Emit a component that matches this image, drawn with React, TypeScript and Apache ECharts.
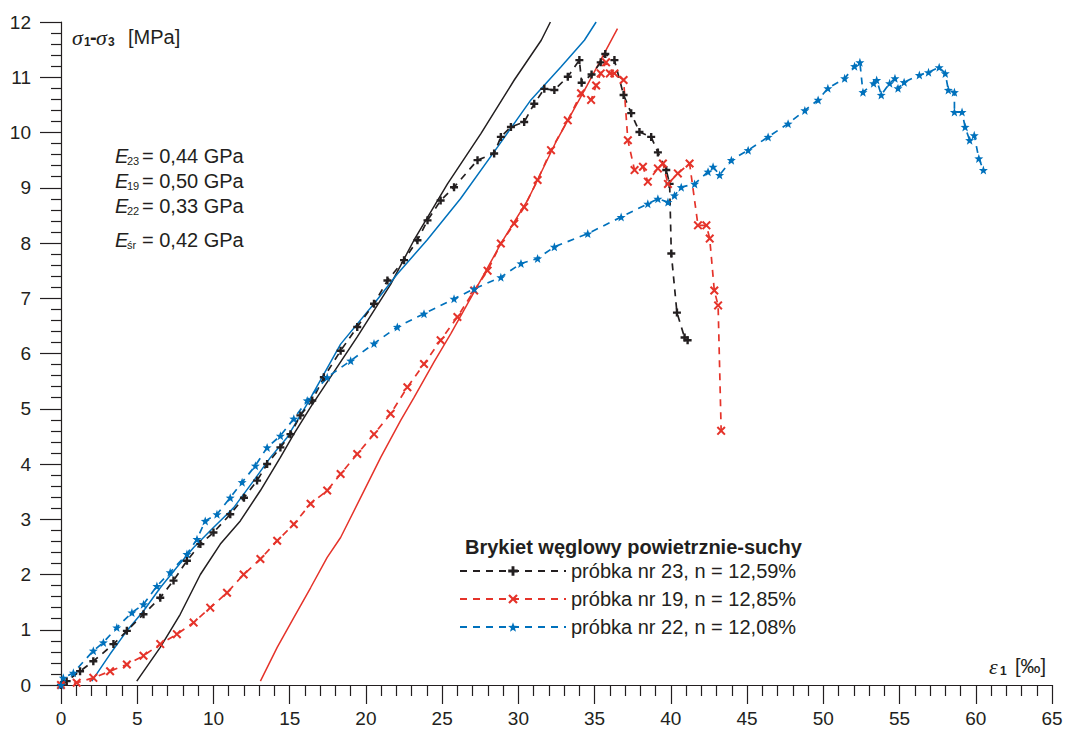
import { useEffect, useRef } from 'react';
import * as echarts from 'echarts';

const INK = '#231f20';
const RED = '#e5332a';
const BLUE = '#0071bc';
const SANS = '"Liberation Sans", Arial, Helvetica, sans-serif';
const SERIF = '"Liberation Serif", "Times New Roman", serif';

const SAMPLE_NAMES = [
  'próbka nr 23, n = 12,59%',
  'próbka nr 19, n = 12,85%',
  'próbka nr 22, n = 12,08%',
];
const LEGEND_TITLE = 'Brykiet węglowy powietrznie-suchy';
const E_SUBS = ['23', '19', '22', 'śr'];
const E_VALUES = ['0,44', '0,50', '0,33', '0,42'];

// sample 23 (black)
const sample23: number[][] = [
  [0, 0], [0.37, 0.07], [1.25, 0.25], [2.12, 0.43], [3.44, 0.74], [4.32, 0.98],
  [5.41, 1.28], [6.51, 1.58], [7.38, 1.89], [8.26, 2.25], [9.14, 2.55], [10.0, 2.76],
  [11.1, 3.09], [12.0, 3.39], [12.86, 3.7], [13.52, 4.0], [14.39, 4.3], [15.05, 4.54],
  [15.7, 4.88], [16.48, 5.15], [17.24, 5.57], [18.34, 6.05], [19.43, 6.48], [20.53, 6.9],
  [21.41, 7.32], [22.5, 7.69], [23.38, 8.05], [24.04, 8.41], [24.9, 8.77], [25.78, 9.01],
  [27.32, 9.5], [28.41, 9.62], [28.85, 9.92], [29.51, 10.1], [30.38, 10.19], [31.04, 10.52],
  [31.7, 10.79], [32.36, 10.77], [33.24, 11.01], [34.0, 11.31], [34.15, 10.9], [34.8, 11.05],
  [35.4, 11.27], [35.7, 11.42], [36.3, 11.31], [36.9, 10.68], [37.4, 10.35], [37.94, 10.01],
  [38.71, 9.92], [39.15, 9.64], [39.7, 9.32], [39.92, 9.07], [40.03, 7.81], [40.4, 6.74],
  [40.9, 6.29], [41.1, 6.24],
];

// sample 19 (red)
const sample19: number[][] = [
  [0, 0], [1.03, 0.04], [2.12, 0.13], [3.22, 0.25], [4.32, 0.37], [5.41, 0.53],
  [6.51, 0.74], [7.6, 0.92], [8.7, 1.13], [9.79, 1.4], [10.89, 1.67], [11.98, 2.0],
  [13.08, 2.28], [14.18, 2.61], [15.27, 2.91], [16.37, 3.28], [17.46, 3.52], [18.34, 3.82],
  [19.43, 4.18], [20.53, 4.54], [21.62, 4.91], [22.72, 5.39], [23.81, 5.81], [24.9, 6.24],
  [26.0, 6.66], [27.1, 7.14], [27.98, 7.5], [28.85, 7.99], [29.73, 8.35], [30.38, 8.65],
  [31.26, 9.14], [32.14, 9.68], [33.24, 10.22], [34.11, 10.71], [34.77, 10.59], [35.1, 10.85],
  [35.4, 11.07], [35.75, 11.27], [36.0, 11.07], [36.3, 11.07], [36.9, 10.95], [37.18, 9.86],
  [37.62, 9.32], [38.17, 9.38], [38.49, 9.11], [39.15, 9.35], [39.48, 9.44], [39.81, 9.07],
  [40.46, 9.26], [41.23, 9.44], [41.78, 8.32], [42.33, 8.32], [42.55, 8.08], [42.85, 7.14],
  [43.1, 6.87], [43.3, 4.6],
];

// sample 22 (blue)
const sample22: number[][] = [
  [0, 0], [0.15, 0.13], [0.81, 0.22], [2.12, 0.62], [2.78, 0.77], [3.66, 1.04],
  [4.65, 1.31], [5.41, 1.46], [6.29, 1.79], [7.16, 2.04], [8.26, 2.37], [8.92, 2.64],
  [9.46, 2.97], [10.23, 3.09], [11.1, 3.39], [11.88, 3.67], [12.75, 3.97], [13.52, 4.3],
  [14.39, 4.51], [15.27, 4.82], [16.15, 5.15], [17.46, 5.57], [19.0, 5.87], [20.53, 6.18],
  [22.06, 6.48], [23.81, 6.72], [25.78, 6.99], [27.1, 7.17], [28.85, 7.38], [30.17, 7.63],
  [31.26, 7.72], [32.36, 7.93], [34.55, 8.17], [36.74, 8.47], [38.49, 8.71], [39.15, 8.8],
  [39.81, 8.74], [40.24, 8.86], [40.68, 9.01], [41.56, 9.07], [42.44, 9.29], [42.77, 9.38],
  [43.2, 9.23], [43.97, 9.5], [45.07, 9.68], [46.38, 9.92], [47.69, 10.16], [48.79, 10.4],
  [49.66, 10.59], [50.3, 10.8], [51.4, 10.98], [52.05, 11.2], [52.4, 11.27], [52.6, 10.73],
  [53.3, 10.89], [53.5, 10.95], [53.8, 10.68], [54.35, 10.89], [54.7, 10.98], [54.9, 10.8],
  [55.3, 10.91], [56.3, 11.04], [56.9, 11.09], [57.6, 11.18], [58.0, 11.07], [58.2, 10.77],
  [58.6, 10.73], [58.6, 10.37], [59.1, 10.37], [59.3, 10.1], [59.6, 9.86], [59.9, 9.95],
  [60.2, 9.53], [60.5, 9.32],
];

// modulus (tangent) lines
const tangent23: number[][] = [
  [4.97, 0.07], [6.51, 0.68], [7.82, 1.28], [9.14, 2.0], [10.45, 2.55], [11.76, 2.97],
  [13.08, 3.52], [14.39, 4.12], [15.27, 4.54], [16.37, 5.03], [17.24, 5.39], [19.43, 6.3],
  [21.62, 7.25], [23.15, 8.05], [25.35, 9.07], [27.54, 9.98], [29.73, 10.95], [31.5, 11.67],
  [32.1, 12.0],
];
const tangent19: number[][] = [
  [13.08, 0.07], [14.18, 0.68], [15.27, 1.22], [16.37, 1.76], [17.46, 2.31], [18.34, 2.67],
  [19.65, 3.39], [20.97, 4.12], [22.28, 4.79], [23.15, 5.2], [24.47, 5.85], [25.57, 6.36],
  [26.66, 6.9], [27.76, 7.44], [28.85, 7.99], [30.6, 8.77], [32.5, 9.85], [34.5, 10.85],
  [36.5, 11.88],
];
const tangent22: number[][] = [
  [2.02, 0.07], [3.22, 0.56], [4.32, 0.98], [5.41, 1.34], [6.51, 1.76], [7.6, 2.13],
  [8.7, 2.49], [10.0, 2.85], [11.33, 3.21], [12.64, 3.7], [13.74, 4.12], [14.83, 4.48],
  [16.15, 5.09], [18.34, 6.17], [20.53, 6.9], [22.06, 7.44], [24.0, 8.05], [26.2, 8.8],
  [28.64, 9.74], [30.82, 10.59], [32.8, 11.19], [34.33, 11.67], [35.1, 12.0],
];

const PLUS = 'path://M3.5,0H6.5V3.5H10V6.5H6.5V10H3.5V6.5H0V3.5H3.5Z';
const CROSS = 'path://M1.6,0L5,3.4L8.4,0L10,1.6L6.6,5L10,8.4L8.4,10L5,6.6L1.6,10L0,8.4L3.4,5L0,1.6Z';
const STAR = 'path://M5,0L6.3,3.6L10,3.7L7.1,6L8.1,9.6L5,7.5L1.9,9.6L2.9,6L0,3.7L3.7,3.6Z';

function txt(x: number, y: number, text: string, font: string, align = 'left') {
  return {
    type: 'text',
    x,
    y,
    silent: true,
    style: { text, font, fill: INK, textAlign: align, textVerticalAlign: 'middle' },
  };
}

function buildGraphics() {
  const g: any[] = [];
  // y-axis name
  g.push(txt(72, 37, 'σ', `italic 22px ${SERIF}`));
  g.push(txt(84, 42, '1', `bold 12px ${SANS}`));
  g.push(txt(90, 37, '-', `bold 20px ${SANS}`));
  g.push(txt(96, 37, 'σ', `italic 22px ${SERIF}`));
  g.push(txt(108, 42, '3', `bold 12px ${SANS}`));
  g.push(txt(128, 37, '[MPa]', `20px ${SANS}`));
  // x-axis name
  g.push(txt(989, 666, 'ε', `italic 22px ${SERIF}`));
  g.push(txt(1000, 671, '1', `bold 12px ${SANS}`));
  g.push(txt(1015, 666, '[‰]', `20px ${SANS}`));
  // moduli
  const rows = [156, 181, 206, 240];
  E_SUBS.forEach((s, i) => {
    const y = rows[i];
    g.push(txt(115, y, 'E', `italic 20px ${SANS}`));
    g.push(txt(127, y + 5, s, `11px ${SANS}`));
    g.push(txt(142, y, `= ${E_VALUES[i]} GPa`, `20px ${SANS}`));
  });
  // legend title
  g.push(txt(465, 547, LEGEND_TITLE, `bold 20px ${SANS}`));
  return g;
}

function sampleSeries(name: string, data: number[][], color: string, symbol: string, size: number) {
  return {
    name,
    type: 'line',
    data,
    symbol,
    symbolSize: size,
    showAllSymbol: true,
    lineStyle: { color, width: 1.7, type: [7, 6] },
    itemStyle: { color },
    z: 3,
  };
}

function tangentSeries(name: string, data: number[][], color: string) {
  return {
    name,
    type: 'line',
    data,
    showSymbol: false,
    symbol: 'none',
    lineStyle: { color, width: 1.5, type: 'solid' },
    itemStyle: { color },
    silent: true,
    z: 2,
  };
}

export default function App() {
  const ref = useRef<HTMLDivElement>(null);
  useEffect(() => {
    const chart = echarts.init(ref.current!, null, { renderer: 'svg' });
    const axisLine = { show: true, lineStyle: { color: INK, width: 1.2 } };
    chart.setOption({
      animation: false,
      backgroundColor: '#ffffff',
      textStyle: { fontFamily: SANS, color: INK },
      grid: { left: 61, right: 18, top: 22, bottom: 48, containLabel: false },
      xAxis: {
        type: 'value',
        min: 0,
        max: 65,
        interval: 5,
        axisLine,
        axisTick: { show: true, length: 19, lineStyle: { color: INK, width: 1.2 } },
        minorTick: { show: true, splitNumber: 5, length: 11, lineStyle: { color: INK, width: 1.2 } },
        axisLabel: { fontSize: 19, color: INK, margin: 24, fontFamily: SANS, hideOverlap: false },
        splitLine: { show: false },
        minorSplitLine: { show: false },
      },
      yAxis: {
        type: 'value',
        min: 0,
        max: 12,
        interval: 1,
        axisLine,
        axisTick: { show: true, length: 21, lineStyle: { color: INK, width: 1.2 } },
        minorTick: { show: true, splitNumber: 5, length: 10, lineStyle: { color: INK, width: 1.2 } },
        axisLabel: { fontSize: 19, color: INK, margin: 30, fontFamily: SANS },
        splitLine: { show: false },
        minorSplitLine: { show: false },
      },
      legend: {
        data: SAMPLE_NAMES,
        orient: 'vertical',
        left: 459,
        top: 561,
        padding: 0,
        itemWidth: 106,
        itemHeight: 12,
        itemGap: 8,
        textStyle: { fontSize: 20, color: INK, fontFamily: SANS },
        selectedMode: false,
      },
      graphic: buildGraphics(),
      series: [
        tangentSeries('E23', tangent23, INK),
        tangentSeries('E19', tangent19, RED),
        tangentSeries('E22', tangent22, BLUE),
        sampleSeries(SAMPLE_NAMES[0], sample23, INK, PLUS, 8),
        sampleSeries(SAMPLE_NAMES[1], sample19, RED, CROSS, 9),
        sampleSeries(SAMPLE_NAMES[2], sample22, BLUE, STAR, 9),
      ],
    });
    return () => chart.dispose();
  }, []);
  return (
    <div
      ref={ref}
      style={{ position: 'fixed', left: 0, top: 0, width: 1070, height: 733, background: '#fff' }}
    />
  );
}
